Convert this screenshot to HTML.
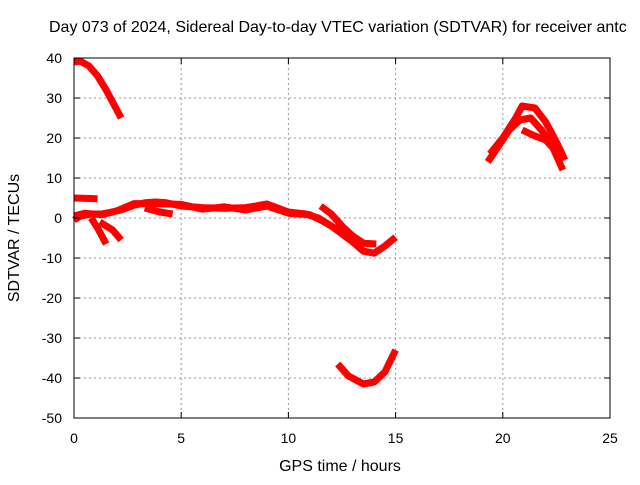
<!DOCTYPE html>
<html><head><meta charset="utf-8"><style>
body{margin:0;background:#fff;}
svg text{font-family:"Liberation Sans",sans-serif;font-size:14px;fill:#000;}
svg text.big{font-size:16px;}
</style></head><body>
<svg id="chart" width="640" height="480" xmlns="http://www.w3.org/2000/svg">
<text class="big" x="49" y="32">Day 073 of 2024, Sidereal Day-to-day VTEC variation (SDTVAR) for receiver antc</text>
<g id="grid"></g>
<g id="series"></g>
<rect x="74" y="58" width="536" height="360" fill="none" stroke="#000" stroke-width="1"/>
<g id="ticks"></g>
<text class="big" x="340" y="471" text-anchor="middle">GPS time / hours</text>
<text class="big" transform="translate(19,238) rotate(-90)" text-anchor="middle">SDTVAR / TECUs</text>
</svg>
<script>
const xTicks=[0,5,10,15,20,25];
const yTicks=[40,30,20,10,0,-10,-20,-30,-40,-50];
const arcTop=[[0,39],[0.3,39.2],[0.7,38],[1.1,35.5],[1.5,32],[1.9,28],[2.2,25]];
const flatFive=[[0,5],[1.1,4.8]];
const mainBand=[[0,-0.5],[0.3,0.5],[0.8,1],[1.3,1],[1.8,1.5],[2.3,2.2],[2.8,3.2],[3.3,3.8],[3.8,4],[4.3,3.8],[5,3],[6,2.6],[7,2.4],[8,2.6],[8.5,3],[9,3.5],[9.5,2.5],[10,1.5],[10.8,1],[11.4,0],[12,-2],[12.5,-4],[13,-6],[13.5,-8.3],[14,-8.8],[14.5,-7],[15,-4.8]];
const mainBand2=[[0,0.5],[0.5,1.2],[1.3,0.8],[2,1.8],[2.8,3.6],[3.8,3.6],[5,3.4],[6,2.2],[7,2.8],[8,2],[9,3],[10,1.2],[11,0.8],[11.5,-0.5],[12.5,-3.5],[13.3,-6.5]];
const secondBand=[[11.5,3],[12,1],[12.5,-2],[13,-4.5],[13.5,-6.3],[14.1,-6.5]];
const branchA=[[0.8,0],[1.1,-2.5],[1.5,-6.5]];
const branchB=[[1.2,-1],[1.8,-3],[2.2,-5.5]];
const branchC=[[3.3,2.5],[4,1.5],[4.6,1]];
const bottomArc=[[12.3,-36.5],[12.8,-39.5],[13.5,-41.5],[14,-41],[14.5,-38.5],[15,-33]];
const rightInner=[[19.3,14],[19.8,18],[20.3,22],[20.8,24.5],[21.3,25],[21.8,22],[22.3,18],[22.8,12]];
const rightOuter=[[19.4,16],[20,20],[20.6,25],[20.9,28],[21.5,27.5],[22,24],[22.5,19],[22.9,14.5]];
const rightMid=[[20.9,22],[21.5,20.5],[22,19.5],[22.6,16]];
const allSeries=[arcTop,flatFive,mainBand,mainBand2,secondBand,branchA,branchB,branchC,bottomArc,rightInner,rightOuter,rightMid];
const X=h=>74+h*536/25, Y=v=>58+(40-v)*4;
const NS="http://www.w3.org/2000/svg";
const grid=document.getElementById('grid'),ticks=document.getElementById('ticks'),ser=document.getElementById('series');
function mk(tag,a,p){const e=document.createElementNS(NS,tag);for(const k in a)e.setAttribute(k,a[k]);p.appendChild(e);return e;}
xTicks.forEach(t=>{
 if(t>0&&t<25){const g=mk('line',{x1:X(t),x2:X(t),y1:58,y2:418,stroke:'#999','stroke-dasharray':'2,3'},grid);
 
 }
 const tx=mk('text',{x:X(t),y:443,'text-anchor':'middle'},ticks);tx.textContent=t;
 
 
 mk('line',{x1:X(t),x2:X(t),y1:418,y2:412,stroke:'#000'},ticks);
 mk('line',{x1:X(t),x2:X(t),y1:58,y2:64,stroke:'#000'},ticks);
});
yTicks.forEach(t=>{
 if(t<40&&t>-50){const g=mk('line',{x1:74,x2:610,y1:Y(t),y2:Y(t),stroke:'#999','stroke-dasharray':'2,3'},grid);
 
 }
 const tx=mk('text',{x:62,y:Y(t)+5,'text-anchor':'end'},ticks);tx.textContent=t;
 
 
 mk('line',{x1:74,x2:80,y1:Y(t),y2:Y(t),stroke:'#000'},ticks);
 mk('line',{x1:604,x2:610,y1:Y(t),y2:Y(t),stroke:'#000'},ticks);
});
allSeries.forEach(s=>{
 const p=mk('polyline',{points:s.map(d=>X(d[0])+','+Y(d[1])).join(' '),fill:'none',stroke:'#f00','stroke-width':7,'stroke-linejoin':'round'},ser);
 
 
});
</script>
</body></html>
